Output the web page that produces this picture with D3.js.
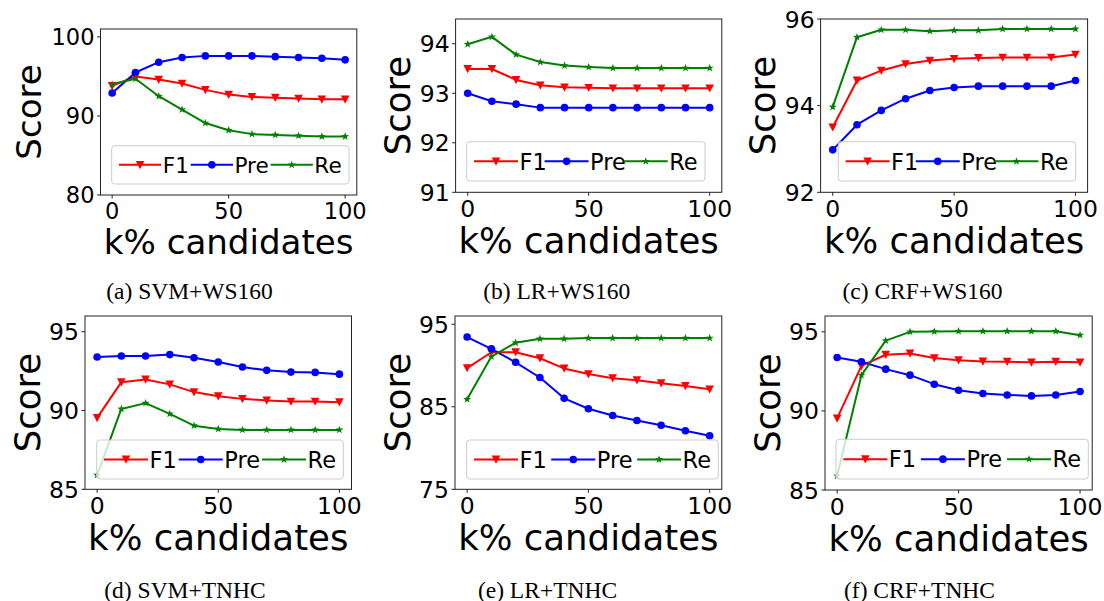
<!DOCTYPE html>
<html>
<head>
<meta charset="utf-8">
<script src="https://cdn.jsdelivr.net/npm/d3@7"></script>
<style>
  body { margin: 0; background: #fff; }
  svg { display: block; }
</style>
</head>
<body>
<div id="FIG"></div>
<script>
// ------------------------- data ------------------------//

var kValues = [0, 10, 20, 30, 40, 50, 60, 70, 80, 90, 100];
var seriesNames = ["F1", "Pre", "Re"];
var xTicks = [0, 50, 100];

var captions = ["(a) SVM+WS160", "(b) LR+WS160", "(c) CRF+WS160",
  "(d) SVM+TNHC", "(e) LR+TNHC", "(f) CRF+TNHC"];

var yDomains = [[80, 101], [91, 94.5], [92, 96], [85, 96], [75, 96], [85, 96]];
var yTicks = [[80, 90, 100], [91, 92, 93, 94], [92, 94, 96], [85, 90, 95], [75, 85, 95], [85, 90, 95]];

var svmWsF1 = [93.8, 95.0, 94.6, 94.1, 93.3, 92.7, 92.4, 92.3, 92.2, 92.1, 92.1];
var svmWsPre = [92.9, 95.5, 96.8, 97.4, 97.6, 97.6, 97.6, 97.5, 97.4, 97.3, 97.1];
var svmWsRe = [94.0, 94.7, 92.5, 90.8, 89.1, 88.2, 87.7, 87.6, 87.5, 87.4, 87.4];

var lrWsF1 = [93.49, 93.49, 93.27, 93.16, 93.12, 93.11, 93.1, 93.1, 93.1, 93.1, 93.1];
var lrWsPre = [93.0, 92.84, 92.78, 92.71, 92.71, 92.71, 92.71, 92.71, 92.71, 92.71, 92.71];
var lrWsRe = [93.99, 94.14, 93.78, 93.63, 93.56, 93.53, 93.51, 93.51, 93.51, 93.51, 93.51];

var crfWsF1 = [93.5, 94.58, 94.81, 94.96, 95.04, 95.08, 95.1, 95.11, 95.11, 95.11, 95.18];
var crfWsPre = [92.98, 93.56, 93.89, 94.16, 94.35, 94.42, 94.45, 94.45, 94.45, 94.45, 94.58];
var crfWsRe = [93.97, 95.58, 95.75, 95.75, 95.72, 95.74, 95.74, 95.77, 95.77, 95.77, 95.77];

var svmTnF1 = [89.53, 91.8, 91.97, 91.66, 91.17, 90.91, 90.74, 90.64, 90.57, 90.57, 90.53];
var svmTnPre = [93.4, 93.46, 93.46, 93.55, 93.35, 93.08, 92.76, 92.55, 92.44, 92.42, 92.31];
var svmTnRe = [85.9, 90.1, 90.47, 89.79, 89.04, 88.83, 88.77, 88.77, 88.77, 88.77, 88.77];

var lrTnF1 = [89.69, 91.61, 91.61, 90.88, 89.65, 88.96, 88.47, 88.22, 87.86, 87.53, 87.12];
var lrTnPre = [93.45, 92.02, 90.39, 88.55, 86.02, 84.76, 83.94, 83.33, 82.76, 82.1, 81.49];
var lrTnRe = [85.9, 91.08, 92.76, 93.24, 93.24, 93.33, 93.33, 93.33, 93.33, 93.33, 93.33];

var crfTnF1 = [89.53, 92.85, 93.55, 93.63, 93.34, 93.21, 93.13, 93.11, 93.07, 93.11, 93.07];
var crfTnPre = [93.38, 93.11, 92.64, 92.26, 91.69, 91.31, 91.1, 91.01, 90.95, 91.01, 91.23];
var crfTnRe = [85.9, 92.26, 94.44, 95.0, 95.02, 95.04, 95.04, 95.04, 95.04, 95.04, 94.79];

var panelSeries = [
  [svmWsF1, svmWsPre, svmWsRe],
  [lrWsF1, lrWsPre, lrWsRe],
  [crfWsF1, crfWsPre, crfWsRe],
  [svmTnF1, svmTnPre, svmTnRe],
  [lrTnF1, lrTnPre, lrTnRe],
  [crfTnF1, crfTnPre, crfTnRe]
];

// ------------------------- layout ------------------------//

var width = 1104,
  height = 601;

var colors = ["#ff0000", "#0000ff", "#008000"];
var markers = ["tri", "circle", "star"];

// axes box, legend box, caption centre, font scale
var layout = [
  { x0: 100.5, x1: 356.8, y0: 29, y1: 195, leg: [111.7, 349, 145.7, 184], cap: 189.5, capY: 299, s: 0.96 },
  { x0: 455.6, x1: 721.8, y0: 19, y1: 192.3, leg: [466.7, 705, 141.7, 181], cap: 556.7, capY: 299, s: 1 },
  { x0: 820.6, x1: 1087.6, y0: 19, y1: 192.3, leg: [838.3, 1075.7, 141.7, 181], cap: 922.5, capY: 299, s: 1 },
  { x0: 85, x1: 351.5, y0: 316, y1: 489.3, leg: [96.7, 343.3, 440, 479], cap: 185, capY: 597.5, s: 1 },
  { x0: 455, x1: 721.8, y0: 316, y1: 489.3, leg: [466.7, 718.3, 440, 479], cap: 547.5, capY: 597.5, s: 1 },
  { x0: 825, x1: 1092.2, y0: 316, y1: 490, leg: [836, 1088.3, 439.3, 479], cap: 919.5, capY: 597.5, s: 1 }
];

var svg = d3.select("#FIG").append("svg")
  .attr("width", width)
  .attr("height", height);

var sans = "'DejaVu Sans', sans-serif";

function markerPath(type) {
  if (type == "tri") return "M-4.3,-3.9L4.3,-3.9L0,4.3Z";
  if (type == "circle") return d3.symbol().type(d3.symbolCircle).size(Math.PI * 3.8 * 3.8)();
  // five point star
  var pts = [];
  for (var i = 0; i < 10; i++) {
    var r = i % 2 == 0 ? 4.2 : 1.7;
    var a = -Math.PI / 2 + i * Math.PI / 5;
    pts.push([r * Math.cos(a), r * Math.sin(a)]);
  }
  return "M" + pts.map(function (p) { return p[0].toFixed(2) + "," + p[1].toFixed(2); }).join("L") + "Z";
}

// ------------------------- panels ------------------------//

layout.forEach(function (L, pi) {
  var x = d3.scaleLinear().domain([-5, 105]).range([L.x0, L.x1]);
  var y = d3.scaleLinear().domain(yDomains[pi]).range([L.y1, L.y0]);

  var tickFs = 23.5 * L.s,
    labelFs = 35.5 * L.s,
    legFs = 22.5 * L.s;

  var g = svg.append("g").attr("class", "panel");

  var line = d3.line()
    .x(function (d, i) { return x(kValues[i]); })
    .y(function (d) { return y(d); });

  panelSeries[pi].forEach(function (vals, si) {
    g.append("path")
      .attr("d", line(vals))
      .attr("fill", "none")
      .attr("stroke", colors[si])
      .attr("stroke-width", 2)
      .attr("stroke-linejoin", "round");

    g.selectAll(".m" + si)
      .data(vals)
      .enter()
      .append("path")
      .attr("class", "m" + si)
      .attr("d", markerPath(markers[si]))
      .attr("transform", function (d, i) { return "translate(" + x(kValues[i]) + "," + y(d) + ")"; })
      .attr("fill", colors[si]);
  });

  // spines
  g.append("rect")
    .attr("x", L.x0).attr("y", L.y0)
    .attr("width", L.x1 - L.x0).attr("height", L.y1 - L.y0)
    .attr("fill", "none")
    .attr("stroke", "#222")
    .attr("stroke-width", 1);

  // x ticks
  xTicks.forEach(function (t) {
    g.append("line")
      .attr("x1", x(t)).attr("x2", x(t))
      .attr("y1", L.y1).attr("y2", L.y1 + 3.5)
      .attr("stroke", "#222");
    g.append("text")
      .attr("x", x(t))
      .attr("y", L.y1 + 8 + 0.73 * tickFs)
      .attr("text-anchor", "middle")
      .style("font-family", sans)
      .style("font-size", tickFs + "px")
      .text(t);
  });

  // y ticks
  var maxW = 0;
  yTicks[pi].forEach(function (t) {
    g.append("line")
      .attr("x1", L.x0 - 3.5).attr("x2", L.x0)
      .attr("y1", y(t)).attr("y2", y(t))
      .attr("stroke", "#222");
    var tx = g.append("text")
      .attr("x", L.x0 - 6)
      .attr("y", y(t) + 0.365 * tickFs)
      .attr("text-anchor", "end")
      .style("font-family", sans)
      .style("font-size", tickFs + "px")
      .text(t);
    maxW = Math.max(maxW, tx.node().getComputedTextLength());
  });

  // axis labels
  var yc = (L.y0 + L.y1) / 2;
  var lx = L.x0 - 6 - maxW - 22.5 + 0.365 * labelFs;
  g.append("text")
    .attr("transform", "translate(" + lx + "," + yc + ") rotate(-90)")
    .attr("text-anchor", "middle")
    .style("font-family", sans)
    .style("font-size", labelFs + "px")
    .text("Score");

  g.append("text")
    .attr("x", (L.x0 + L.x1) / 2)
    .attr("y", L.y1 + 61 * L.s)
    .attr("text-anchor", "middle")
    .style("font-family", sans)
    .style("font-size", labelFs + "px")
    .text("k% candidates");

  // legend
  var lb = L.leg;
  g.append("rect")
    .attr("x", lb[0]).attr("y", lb[2])
    .attr("width", lb[1] - lb[0]).attr("height", lb[3] - lb[2])
    .attr("rx", 3)
    .attr("fill", "#fff")
    .attr("fill-opacity", 0.8)
    .attr("stroke", "#cccccc")
    .attr("stroke-width", 1);

  var handleLen = 44 * L.s,
    pad = 7.3,
    gap = 1.5;
  var labels = seriesNames.map(function (n) {
    return g.append("text")
      .style("font-family", sans)
      .style("font-size", legFs + "px")
      .text(n);
  });
  var widths = labels.map(function (t) { return t.node().getComputedTextLength(); });
  var itemSum = d3.sum(widths) + 3 * (handleLen + gap);
  var colSp = (lb[1] - lb[0] - 2 * pad - itemSum) / 2;
  var ly = (lb[2] + lb[3]) / 2;
  var cx = lb[0] + pad;
  seriesNames.forEach(function (n, si) {
    g.append("line")
      .attr("x1", cx).attr("x2", cx + handleLen)
      .attr("y1", ly).attr("y2", ly)
      .attr("stroke", colors[si])
      .attr("stroke-width", 2);
    g.append("path")
      .attr("d", markerPath(markers[si]))
      .attr("transform", "translate(" + (cx + handleLen / 2) + "," + ly + ")")
      .attr("fill", colors[si]);
    labels[si]
      .attr("x", cx + handleLen + gap)
      .attr("y", ly + 0.365 * legFs);
    cx += handleLen + gap + widths[si] + colSp;
  });

  // caption
  svg.append("text")
    .attr("x", L.cap)
    .attr("y", L.capY)
    .attr("text-anchor", "middle")
    .style("font-family", "'Liberation Serif', 'Times New Roman', serif")
    .style("font-size", "23.5px")
    .text(captions[pi]);
});
</script>
</body>
</html>
